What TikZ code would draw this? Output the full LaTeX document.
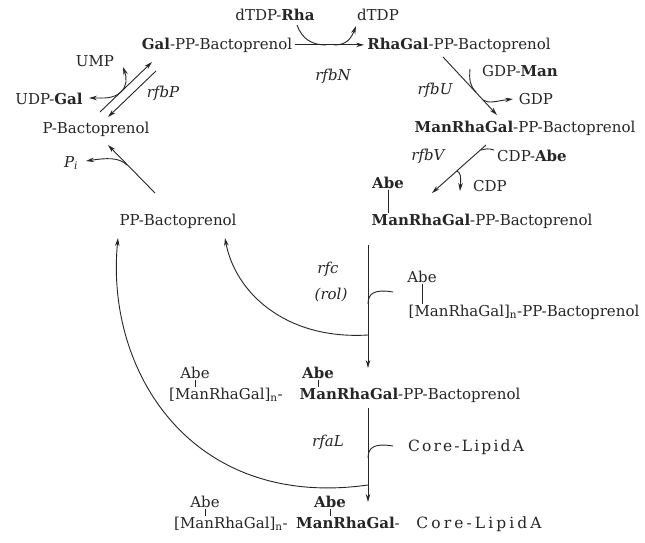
\documentclass[tikz,border=0pt]{standalone}
\usepackage{fontspec}
\setmainfont{DejaVu Serif}
\usetikzlibrary{arrows.meta}
\begin{document}
\begin{tikzpicture}[x=1pt,y=-1pt,
  txt/.style={inner sep=0pt, anchor=base, font=\fontsize{15}{18}\selectfont, text=black!85},
  enz/.style={txt, font=\fontsize{15}{18}\selectfont\itshape},
  cl/.style={txt, font=\fontsize{15.5}{18}\selectfont\addfontfeature{LetterSpace=14}},
  clb/.style={txt, font=\fontsize{15.5}{18}\selectfont\addfontfeature{LetterSpace=20}},
  ln/.style={line width=0.9pt, draw=black!85},
  tick/.style={line width=0.7pt, draw=black!85},
  arr/.style={ln, -{Stealth[length=8pt,width=4.5pt]}}]
\useasboundingbox (0,0) rectangle (645,542);
\fill[white] (0,0) rectangle (645,542);

% texts
\node[txt] (dtdprha) at (275,20) {dTDP-\textbf{Rha}};
\node[txt] (dtdp) at (378,20) {dTDP};
\node[txt] (galpp) at (217,49) {\textbf{Gal}-PP-Bactoprenol};
\node[txt] (rhagal) at (459,49) {\textbf{RhaGal}-PP-Bactoprenol};
\node[enz] (rfbN) at (333,80) {rfbN};
\node[txt] (ump) at (95,66) {UMP};
\node[txt] (udpgal) at (49,104) {UDP-\textbf{Gal}};
\node[enz] (rfbP) at (163,97) {rfbP};
\node[txt] (pbact) at (96,133) {P-Bactoprenol};
\node[txt] (pi) at (71,167) {\itshape P\textsubscript{i}};
\node[txt] (ppbact) at (178,225) {PP-Bactoprenol};
\node[enz] (rfbU) at (435,94) {rfbU};
\node[txt] (gdpman) at (520,76) {GDP-\textbf{Man}};
\node[txt] (gdp) at (536,104) {GDP};
\node[txt] (mrg1) at (525,132) {\textbf{ManRhaGal}-PP-Bactoprenol};
\node[enz] (rfbV) at (428,160) {rfbV};
\node[txt] (cdpabe) at (532,161) {CDP-\textbf{Abe}};
\node[txt] (cdp) at (490,191) {CDP};
\node[txt] (abe1) at (388,188) {\textbf{Abe}};
\node[txt] (mrg2) at (482,225) {\textbf{ManRhaGal}-PP-Bactoprenol};
\node[enz] (rfc) at (328,273) {rfc};
\node[enz] (rol) at (331,299) {(rol)};
\node[txt] (abe2) at (422,282) {Abe};
\node[txt] (mrgn) at (524,316) {[ManRhaGal]\textsubscript{n}-PP-Bactoprenol};
\node[txt] (abe3) at (195,378) {Abe};
\node[txt] (abe4) at (318,378) {\textbf{Abe}};
\node[txt] (mrg3a) at (226,399) {[ManRhaGal]\textsubscript{n}-};
\node[txt] (mrg3b) at (410,399) {\textbf{ManRhaGal}-PP-Bactoprenol};
\node[enz] (rfaL) at (328,446) {rfaL};
\node[cl] (core) at (466,451) {Core-LipidA};
\node[txt] (abe5) at (205,507) {Abe};
\node[txt] (abe6) at (330,507) {\textbf{Abe}};
\node[txt] (mrg4a) at (231,528) {[ManRhaGal]\textsubscript{n}-};
\node[txt] (mrg4b) at (348,528) {\textbf{ManRhaGal}-};
\node[clb] (core2) at (479,528) {Core-LipidA};

% ticks
\foreach \a/\t in {abe1/mrg2, abe2/mrgn, abe3/mrg3a, abe4/mrg3b, abe5/mrg4a, abe6/mrg4b}{
  \coordinate (tk-\a) at (\a.base |- \t.base);
  \draw[tick] ([yshift=-1.5pt]\a.base) -- ([yshift=12pt]tk-\a);
}

% rfbN
\draw[arr] ([xshift=3pt]galpp.east) -- ([xshift=-3pt]rhagal.west);
\coordinate (nIn) at (297,25);
\coordinate (nJoin) at (326,45);
\coordinate (nOut) at (334,45);
\coordinate (nTip) at (356,26);
\draw[ln] (nIn) .. controls (302,39) and (312,45) .. (nJoin);
\draw[arr] (nOut) .. controls (346,45) and (351,39) .. (nTip);

% rfbP double arrow
\coordinate (pA1) at (100,112);
\coordinate (pA2) at (152,62);
\coordinate (pB1) at (156,71);
\coordinate (pB2) at (108,117);
\draw[arr] (pA1) -- (pA2);
\draw[arr] (pB1) -- (pB2);
\coordinate (pBr) at (121,92);
\coordinate (umpTip) at (123,67);
\coordinate (udpTip) at (89,98);
\draw[arr] (pBr) .. controls (127,86) and (127,78) .. (umpTip);
\draw[arr] (pBr) .. controls (113,99) and (104,98) .. (udpTip);

% Pi
\coordinate (piS) at (155,193);
\coordinate (piE) at (108,145);
\draw[arr] (piS) -- (piE);
\coordinate (piBr) at (127,165);
\coordinate (piTip) at (86,161);
\draw[arr] (piBr) .. controls (119,157) and (106,158) .. (piTip);

% rfbU
\coordinate (uS) at (443,57);
\coordinate (uE) at (497,115);
\draw[arr] (uS) -- (uE);
\draw[ln] (470,69) .. controls (469,80) and (470,86) .. (476,92);
\draw[arr] (483,100) .. controls (489,104) and (496,101) .. (513,99);

% rfbV
\coordinate (vS) at (486,145);
\coordinate (vE) at (432,193);
\draw[arr] (vS) -- (vE);
\draw[ln] (481,150) .. controls (485,149) and (488,148) .. (494,150);
\draw[arr] (457,171) .. controls (461,173) and (461,177) .. (460,191);

% rfc
\coordinate (c1) at (368,245);
\coordinate (c2) at (368,368);
\draw[arr] (c1) -- (c2);
\coordinate (cJ) at (368,335);
\coordinate (cT) at (225,238);
\draw[arr] (cJ) .. controls (285,340) and (235,292) .. (cT);
\draw[ln] (368,304) .. controls (368,293) and (375,289) .. (393,292);

% rfaL
\coordinate (l1) at (368,408);
\coordinate (l2) at (368,502);
\draw[arr] (l1) -- (l2);
\coordinate (lJ) at (368,485);
\coordinate (lT) at (118,238);
\draw[arr] (lJ) .. controls (190,510) and (105,370) .. (lT);
\draw[ln] (368,458) .. controls (368,447) and (375,443) .. (393,446);
\end{tikzpicture}
\end{document}
